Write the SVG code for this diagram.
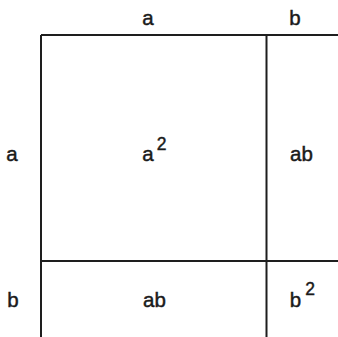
<svg xmlns="http://www.w3.org/2000/svg" width="338" height="337" viewBox="0 0 338 337">
<style>
.l{stroke:#1e1e1e;stroke-width:2;fill:none}
text{font-family:"Liberation Sans",Arial,sans-serif;font-size:20.5px;fill:#1a1a1a;stroke:#1a1a1a;stroke-width:0.45;text-anchor:middle}
.sup{font-size:17.5px}
</style>
<rect width="338" height="337" fill="#ffffff"/>
<g id="connectors">
<line class="l" x1="41" y1="35" x2="338" y2="35"/>
<line class="l" x1="41" y1="35" x2="41" y2="337"/>
<line class="l" x1="266.5" y1="35" x2="266.5" y2="337"/>
<line class="l" x1="41" y1="261" x2="338" y2="261"/>
</g>
<g id="label-top-a"><text x="148" y="25">a</text></g>
<g id="label-top-b"><text x="295" y="25">b</text></g>
<g id="label-left-a"><text x="12" y="161">a</text></g>
<g id="label-left-b"><text x="13" y="307">b</text></g>
<g id="cell-a2"><text x="148" y="161">a</text><text class="sup" x="161.5" y="150">2</text></g>
<g id="cell-ab-right"><text x="301.5" y="161">ab</text></g>
<g id="cell-ab-bottom"><text x="154.5" y="307">ab</text></g>
<g id="cell-b2"><text x="295.5" y="307">b</text><text class="sup" x="310" y="295">2</text></g>
</svg>
